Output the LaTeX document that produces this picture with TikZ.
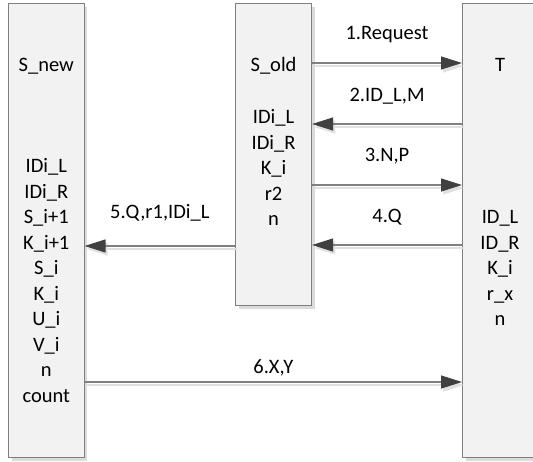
\documentclass[tikz,border=0pt]{standalone}
\usepackage{fontspec}
\setmainfont{Carlito}
\usetikzlibrary{arrows.meta,shadows}
\begin{document}
\begin{tikzpicture}[x=1pt,y=-1pt,
 box/.style={draw=black!50, line width=1.1pt, fill=black!5, inner sep=0pt, anchor=north west,
   drop shadow={shadow xshift=3pt, shadow yshift=-3pt, fill=black!14, opacity=1}},
 txt/.style={font=\fontsize{20.5}{25.5}\selectfont, inner sep=0pt, text height=13.5pt, text depth=0pt},
 lst/.style={font=\fontsize{20.5}{25.5}\selectfont, inner sep=0pt, align=center, anchor=north},
 msg/.style={draw=black!50, line width=1.3pt, -{Triangle[length=21pt,width=13pt,color=black!75]},
   preaction={draw=black!12, line width=1.3pt, -{Triangle[length=21pt,width=13pt,color=black!12]},
     transform canvas={xshift=2pt,yshift=-3pt}}},
 lbl/.style={txt, midway}
]
\useasboundingbox (0,0) rectangle (533,462);
\clip (0,0) rectangle (533,462);
\node[box, minimum width=75.5pt, minimum height=454pt] (snew) at (8,3) {};
\node[box, minimum width=76pt, minimum height=302pt] (mid) at (235,3) {};
\node[box, minimum width=75pt, minimum height=454pt] (tbox) at (462,3) {};

\node[txt] (tnew) at (snew.center |- 0,65) {S\_new};
\node[txt] (told) at (mid.center |- 0,65) {S\_old};
\node[txt] (tt) at (tbox.center |- 0,65) {T};

\node[lst] (lnew) at (snew.center |- 0,158.6) {IDi\_L\\IDi\_R\\S\_i+1\\K\_i+1\\S\_i\\K\_i\\U\_i\\V\_i\\n\\count};
\node[lst] (lold) at (mid.center |- 0,109.6) {IDi\_L\\IDi\_R\\K\_i\\r2\\n};
\node[lst] (lt) at (tbox.center |- 0,210.6) {ID\_L\\ID\_R\\K\_i\\r\_x\\n};

\draw[msg] (mid.east |- 0,63) -- node[lbl, yshift=30pt] (l1) {1.Request} (tbox.west |- 0,63);
\draw[msg] (tbox.west |- 0,124) -- node[lbl, yshift=29pt] (l2) {2.ID\_L,M} (mid.east |- 0,124);
\draw[msg] (mid.east |- 0,185) -- node[lbl, yshift=30pt] (l3) {3.N,P} (tbox.west |- 0,185);
\draw[msg] (tbox.west |- 0,245) -- node[lbl, yshift=29pt] (l4) {4.Q} (mid.east |- 0,245);
\draw[msg] (mid.west |- 0,246) -- node[lbl, yshift=34pt] (l5) {5.Q,r1,IDi\_L} (snew.east |- 0,246);
\draw[msg] (snew.east |- 0,382) -- node[lbl, yshift=15pt] (l6) {6.X,Y} (tbox.west |- 0,382);
\end{tikzpicture}
\end{document}
